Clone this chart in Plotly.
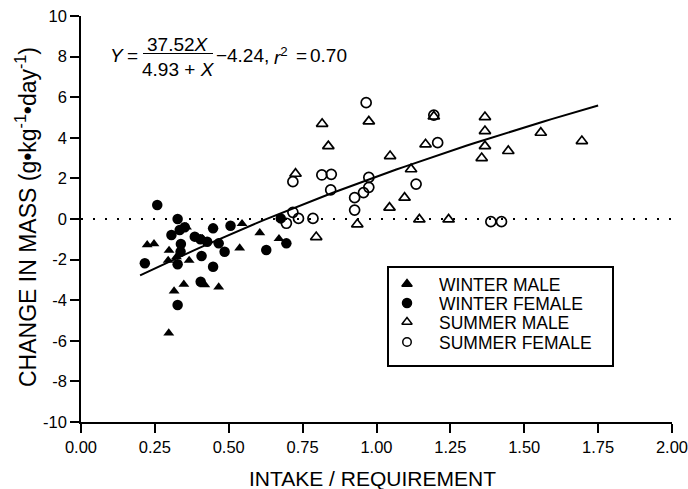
import plotly.graph_objects as go

# ---------------- data ----------------
WINTER_MALE_X = [0.224, 0.247, 0.298, 0.295, 0.323, 0.357, 0.366, 0.411, 0.348, 0.315,
                 0.419, 0.466, 0.297, 0.537, 0.545, 0.605, 0.670]
WINTER_MALE_Y = [-1.27, -1.22, -1.55, -2.04, -1.87, -0.40, -2.04, -0.97, -3.22, -3.55,
                 -3.24, -3.35, -5.62, -1.43, -0.23, -0.68, -0.97]

WINTER_FEMALE_X = [0.258, 0.327, 0.334, 0.351, 0.306, 0.338, 0.337, 0.385, 0.404, 0.427,
                   0.447, 0.466, 0.486, 0.506, 0.408, 0.216, 0.327, 0.447, 0.405, 0.327,
                   0.627, 0.676, 0.695]
WINTER_FEMALE_Y = [0.69, 0.00, -0.54, -0.41, -0.79, -1.23, -1.61, -0.87, -1.00, -1.12,
                   -0.46, -1.20, -1.61, -0.33, -1.82, -2.18, -2.23, -2.35, -3.09, -4.24,
                   -1.53, 0.03, -1.20]

SUMMER_MALE_X = [0.816, 0.974, 0.837, 0.726, 1.046, 1.166, 1.194, 1.117, 1.095, 1.044,
                 0.935, 1.145, 1.244, 0.796, 1.367, 1.367, 1.367, 1.356, 1.446, 1.556, 1.695]
SUMMER_MALE_Y = [4.69, 4.81, 3.59, 2.23, 3.10, 3.68, 5.05, 2.45, 1.05, 0.56,
                 -0.26, -0.02, -0.02, -0.89, 5.02, 4.33, 3.59, 3.00, 3.35, 4.25, 3.84]

SUMMER_FEMALE_X = [0.965, 1.194, 1.207, 0.717, 0.815, 0.847, 0.845, 0.974, 0.974, 0.956,
                   0.926, 0.926, 1.134, 0.717, 0.695, 0.736, 0.785, 1.387, 1.423]
SUMMER_FEMALE_Y = [5.73, 5.12, 3.76, 1.84, 2.17, 2.20, 1.43, 2.05, 1.56, 1.30,
                   1.05, 0.44, 1.72, 0.33, -0.21, 0.03, 0.03, -0.13, -0.13]

# fitted curve Y = A*X/(B+X) - C, drawn over the observed intake range
FIT_A, FIT_B, FIT_C = 37.52, 4.93, 4.24
FIT_R2 = "0.70"
FIT_X_START, FIT_X_END = 0.20, 1.75

SERIES_NAMES = ["WINTER MALE", "WINTER FEMALE", "SUMMER MALE", "SUMMER FEMALE"]

X_TICKS = [0.0, 0.25, 0.5, 0.75, 1.0, 1.25, 1.5, 1.75, 2.0]
X_TICK_TEXT = ["0.00", "0.25", "0.50", "0.75", "1.00", "1.25", "1.50", "1.75", "2.00"]
Y_TICKS = [10, 8, 6, 4, 2, 0, -2, -4, -6, -8, -10]
Y_TICK_TEXT = ["10", "8", "6", "4", "2", "0", "-2", "-4", "-6", "-8", "-10"]

# ---------------- layout geometry (pixels) ----------------
W, H = 688, 489
ML, MR, MT, MB = 81, 16, 16, 67
PW, PH = W - ML - MR, H - MT - MB
FONT = "Liberation Sans, Arial, Helvetica, sans-serif"


def px_x(p):
    return (p - ML) / PW


def px_y(p):
    return (H - MB - p) / PH


n = 60
fit_x = [FIT_X_START + (FIT_X_END - FIT_X_START) * i / (n - 1) for i in range(n)]
fit_y = [FIT_A * x / (FIT_B + x) - FIT_C for x in fit_x]

fig = go.Figure()

# zero reference line (dotted)
fig.add_trace(go.Scatter(x=[0, 2], y=[0, 0], mode="lines",
                         line=dict(color="black", width=2, dash="2px,10px"),
                         hoverinfo="skip", showlegend=False))

mk_line = dict(color="black", width=1.7)
fig.add_trace(go.Scatter(x=WINTER_MALE_X, y=WINTER_MALE_Y, mode="markers", name=SERIES_NAMES[0],
                         marker=dict(symbol="triangle-up", size=9.5, color="black"), showlegend=False))
fig.add_trace(go.Scatter(x=WINTER_FEMALE_X, y=WINTER_FEMALE_Y, mode="markers", name=SERIES_NAMES[1],
                         marker=dict(symbol="circle", size=10.5, color="black"), showlegend=False))
fig.add_trace(go.Scatter(x=SUMMER_MALE_X, y=SUMMER_MALE_Y, mode="markers", name=SERIES_NAMES[2],
                         marker=dict(symbol="triangle-up-open", size=10, color="black", line=mk_line),
                         showlegend=False))
fig.add_trace(go.Scatter(x=SUMMER_FEMALE_X, y=SUMMER_FEMALE_Y, mode="markers", name=SERIES_NAMES[3],
                         marker=dict(symbol="circle-open", size=10, color="black", line=mk_line),
                         showlegend=False))

fig.add_trace(go.Scatter(x=fit_x, y=fit_y, mode="lines", line=dict(color="black", width=2),
                         hoverinfo="skip", showlegend=False))

# ---------------- manual legend (overlay axes in paper fractions) ----------------
LEG_BOX = (388, 267, 613, 366)
LEG_KEY_X = 407
LEG_TEXT_X = 437
LEG_ROWS = [284, 303, 322, 342]
leg_syms = ["triangle-up", "circle", "triangle-up-open", "circle-open"]
leg_sizes = [9, 9, 9, 8.5]
for i in range(4):
    fig.add_trace(go.Scatter(x=[px_x(LEG_KEY_X)], y=[px_y(LEG_ROWS[i])], xaxis="x2", yaxis="y2",
                             mode="markers", hoverinfo="skip", showlegend=False,
                             marker=dict(symbol=leg_syms[i], size=leg_sizes[i], color="black",
                                         line=dict(color="black", width=1.5))))

shapes = [dict(type="rect", xref="paper", yref="paper",
               x0=px_x(LEG_BOX[0]), x1=px_x(LEG_BOX[2]), y0=px_y(LEG_BOX[3]), y1=px_y(LEG_BOX[1]),
               line=dict(color="black", width=2), fillcolor="rgba(0,0,0,0)")]

annotations = []
for i in range(4):
    annotations.append(dict(text=SERIES_NAMES[i], xref="paper", yref="paper",
                            x=px_x(LEG_TEXT_X), y=px_y(LEG_ROWS[i]), xanchor="left", yanchor="middle",
                            height=19, valign="middle",
                            showarrow=False, font=dict(size=17.5, color="black", family=FONT)))

# ---------------- equation ----------------
EQ_FONT = dict(size=19, color="black", family=FONT)
EQ_ROW = 56
eq_parts = [
    ("<i>Y</i>", 117, EQ_ROW, "center"),
    ("=", 132, EQ_ROW, "center"),
    ("37.52<i>X</i>", 178, 45, "center"),
    ("4.93 + <i>X</i>", 178, 69.5, "center"),
    ("\u2212", 221.5, EQ_ROW, "center"),
    ("%.2f," % FIT_C, 225, EQ_ROW, "left"),
    ("<i>r</i><sup>2</sup>", 272, EQ_ROW, "left"),
    ("=", 301, EQ_ROW, "center"),
    (FIT_R2, 308, EQ_ROW, "left"),
]
for txt, xp, yp, anc in eq_parts:
    annotations.append(dict(text=txt, xref="paper", yref="paper", x=px_x(xp), y=px_y(yp),
                            xanchor=anc, yanchor="middle", showarrow=False, font=EQ_FONT))
shapes.append(dict(type="line", xref="paper", yref="paper", x0=px_x(143), x1=px_x(213),
                   y0=px_y(53.5), y1=px_y(53.5), line=dict(color="black", width=1.2)))

# ---------------- axis titles ----------------
annotations.append(dict(text="INTAKE / REQUIREMENT", xref="paper", yref="paper",
                        x=px_x(372), y=px_y(479), xanchor="center", yanchor="middle",
                        showarrow=False, font=dict(size=21, color="black", family=FONT)))
annotations.append(dict(text="CHANGE IN MASS (g\u2022kg<sup>-1</sup>\u2022day<sup>-1</sup>)",
                        xref="paper", yref="paper", x=px_x(26), y=px_y(217),
                        xanchor="center", yanchor="middle", textangle=-90,
                        showarrow=False, font=dict(size=23, color="black", family=FONT)))

axis_common = dict(showgrid=False, zeroline=False, showline=True, linecolor="black", linewidth=1.5,
                   ticks="outside", ticklen=9, tickwidth=1.5, tickcolor="black",
                   tickfont=dict(size=16.5, color="black", family=FONT), mirror=False,
                   ticklabeloverflow="allow", automargin=False)

fig.update_layout(
    width=W, height=H, margin=dict(l=ML, r=MR, t=MT, b=MB),
    paper_bgcolor="white", plot_bgcolor="white",
    font=dict(family=FONT, color="black"),
    xaxis=dict(range=[0, 2], tickvals=X_TICKS, ticktext=X_TICK_TEXT, **axis_common),
    yaxis=dict(range=[-10, 10], tickvals=Y_TICKS, ticktext=Y_TICK_TEXT, **axis_common),
    xaxis2=dict(range=[0, 1], overlaying="x", visible=False, fixedrange=True),
    yaxis2=dict(range=[0, 1], overlaying="y", visible=False, fixedrange=True),
    shapes=shapes, annotations=annotations, showlegend=False,
)

fig.write_html("out.html")
